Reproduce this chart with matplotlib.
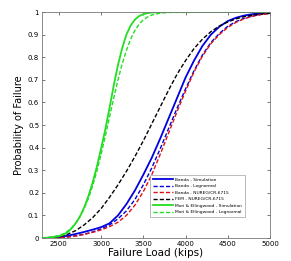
import matplotlib
matplotlib.use("Agg")
import matplotlib.pyplot as plt

# ── Data (load in kips, probability of failure) ─────────────────────────────────

load = [2300, 2400, 2500, 2600, 2700, 2800, 2900, 3000, 3100, 3200, 3300, 3400,
        3500, 3600, 3700, 3800, 3900, 4000, 4100, 4200, 4300, 4400, 4500, 4600,
        4700, 4800, 4900, 5000]

banda_sim = [0.0, 0.001, 0.003, 0.010, 0.018, 0.027, 0.037, 0.048, 0.065, 0.100,
             0.150, 0.210, 0.280, 0.355, 0.440, 0.530, 0.620, 0.710, 0.785, 0.850,
             0.900, 0.935, 0.960, 0.975, 0.985, 0.991, 0.995, 0.997]

banda_logn = [0.0, 0.0005, 0.002, 0.005, 0.010, 0.017, 0.027, 0.040, 0.058, 0.085,
              0.120, 0.170, 0.235, 0.310, 0.395, 0.485, 0.575, 0.660, 0.740, 0.810,
              0.865, 0.905, 0.937, 0.958, 0.973, 0.983, 0.990, 0.994]

banda_nureg = [0.0, 0.0005, 0.0015, 0.004, 0.009, 0.016, 0.025, 0.036, 0.050, 0.070,
               0.100, 0.145, 0.205, 0.280, 0.370, 0.465, 0.560, 0.650, 0.735, 0.805,
               0.860, 0.900, 0.932, 0.955, 0.971, 0.982, 0.989, 0.993]

fem_nureg = [0.0, 0.002, 0.006, 0.016, 0.033, 0.058, 0.090, 0.130, 0.180, 0.235,
             0.295, 0.360, 0.430, 0.505, 0.580, 0.655, 0.725, 0.785, 0.838, 0.880,
             0.913, 0.938, 0.956, 0.970, 0.980, 0.987, 0.992, 0.995]

# Mori & Ellingwood curves are steep, so they are read on a finer load grid
mori_load = [2300, 2400, 2500, 2550, 2600, 2650, 2700, 2750, 2800, 2850, 2900, 2950,
             3000, 3050, 3100, 3150, 3200, 3250, 3300, 3350, 3400, 3450, 3500, 3550,
             3600, 3700, 3800, 5000]

mori_sim = [0.0, 0.002, 0.008, 0.014, 0.025, 0.042, 0.065, 0.095, 0.135, 0.185,
            0.245, 0.315, 0.395, 0.480, 0.575, 0.675, 0.765, 0.840, 0.900, 0.940,
            0.966, 0.982, 0.990, 0.995, 0.998, 0.999, 1.0, 1.0]

mori_logn = [0.001, 0.004, 0.011, 0.018, 0.029, 0.045, 0.067, 0.095, 0.130, 0.175,
             0.230, 0.295, 0.370, 0.450, 0.535, 0.620, 0.700, 0.770, 0.830, 0.880,
             0.918, 0.946, 0.965, 0.978, 0.987, 0.995, 0.998, 1.0]

labels = ["Banda - Simulation", "Banda - Lognormal", "Banda - NUREG/CR-6715",
          "FEM - NUREG/CR-6715", "Mori & Ellingwood - Simulation",
          "Mori & Ellingwood - Lognormal"]

x_ticks = [2500, 3000, 3500, 4000, 4500, 5000]
y_ticks = [0, 0.1, 0.2, 0.3, 0.4, 0.5, 0.6, 0.7, 0.8, 0.9, 1]
y_ticklabels = ["0", "0.1", "0.2", "0.3", "0.4", "0.5", "0.6", "0.7", "0.8", "0.9", "1"]

# ── Plot ───────────────────────────────────────────────────────────────────────

fig = plt.figure(figsize=(2.91, 2.61), dpi=100)
ax = fig.add_axes([0.144, 0.088, 0.784, 0.866])

blue, red, green = "#0000e0", "#e01010", "#22dd22"
dash = (0, (3, 1.5))
ax.plot(load, banda_sim, color=blue, lw=1.3, label=labels[0])
ax.plot(load, banda_logn, color=blue, lw=1.0, ls=dash, label=labels[1])
ax.plot(load, banda_nureg, color=red, lw=1.0, ls=dash, label=labels[2])
ax.plot(load, fem_nureg, color="black", lw=1.0, ls=dash, label=labels[3])
ax.plot(mori_load, mori_sim, color=green, lw=1.3, label=labels[4])
ax.plot(mori_load, mori_logn, color=green, lw=1.0, ls=dash, label=labels[5])

ax.set_xlim(2300, 5000)
ax.set_ylim(0, 1)
ax.set_xticks(x_ticks)
ax.set_yticks(y_ticks)
ax.set_yticklabels(y_ticklabels)
ax.tick_params(direction="in", length=2, width=0.5, labelsize=5, pad=2,
               top=True, right=True, colors="#444444", labelcolor="black")
for s in ax.spines.values():
    s.set_linewidth(0.6)
    s.set_color("#777777")

ax.set_xlabel("Failure Load (kips)", fontsize=7.5, labelpad=1)
ax.set_ylabel("Probability of Failure", fontsize=7, labelpad=3)

leg = ax.legend(loc="lower right", fontsize=3.2, frameon=True, fancybox=False,
                edgecolor="#888888", handlelength=4.5, handletextpad=0.6,
                borderpad=0.6, labelspacing=0.55, borderaxespad=0,
                bbox_to_anchor=(0.89, 0.093))
leg.get_frame().set_linewidth(0.5)

fig.savefig("out.png", dpi=100)
